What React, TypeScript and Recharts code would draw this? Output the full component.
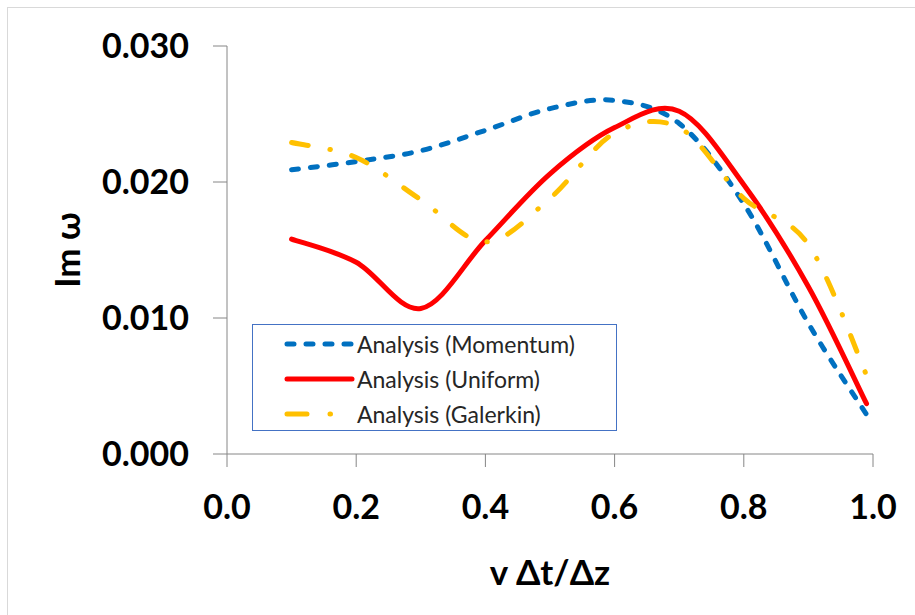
import { LineChart, Line, XAxis, YAxis, Legend, Label } from 'recharts'

// courant number samples
const courant = [0.1, 0.2, 0.3, 0.4, 0.5, 0.6, 0.7, 0.8, 0.9, 0.99]
const momentum = [0.0209, 0.0215, 0.0223, 0.0238, 0.0254, 0.026, 0.0243, 0.0184, 0.0096, 0.0029]
const uniform = [0.0158, 0.0141, 0.0107, 0.0157, 0.0206, 0.024, 0.0252, 0.0198, 0.0123, 0.0037]
const galerkin = [0.0229, 0.0218, 0.0187, 0.0156, 0.0188, 0.0236, 0.024, 0.0188, 0.0154, 0.0058]

const xTicks = [0, 0.2, 0.4, 0.6, 0.8, 1.0]
const yTicks = [0, 0.01, 0.02, 0.03]

const data = courant.map((x, i) => ({
  x,
  momentum: momentum[i],
  uniform: uniform[i],
  galerkin: galerkin[i],
}))

const FONT = 'Lato, "Open Sans", sans-serif'
const AXIS = '#868686'

const SERIES = [
  { key: 'momentum', name: 'Analysis (Momentum)', color: '#0070C0', dash: '7 12', legendDash: '7 12', width: 5 },
  { key: 'uniform', name: 'Analysis (Uniform)', color: '#FF0000', dash: undefined, legendDash: undefined, width: 5 },
  { key: 'galerkin', name: 'Analysis (Galerkin)', color: '#FFC000', dash: '17 22 0.5 22', legendDash: '20 23 0.5 60', width: 5 },
]

// excel-like smoothing (catmull-rom through the points)
const excelSmooth = (context: any) => {
  let pts: number[][] = []
  return {
    areaStart() {},
    areaEnd() {},
    lineStart() {
      pts = []
    },
    lineEnd() {
      if (!pts.length) return
      context.moveTo(pts[0][0], pts[0][1])
      for (let i = 0; i < pts.length - 1; i++) {
        const p0 = pts[Math.max(0, i - 1)]
        const p1 = pts[i]
        const p2 = pts[i + 1]
        const p3 = pts[Math.min(pts.length - 1, i + 2)]
        context.bezierCurveTo(
          p1[0] + (p2[0] - p0[0]) / 6,
          p1[1] + (p2[1] - p0[1]) / 6,
          p2[0] - (p3[0] - p1[0]) / 6,
          p2[1] - (p3[1] - p1[1]) / 6,
          p2[0],
          p2[1],
        )
      }
    },
    point(x: number, y: number) {
      pts.push([+x, +y])
    },
  }
}

function LegendBox({ payload }: any) {
  const items = payload || []
  return (
    <div
      style={{
        width: 363,
        height: 104,
        border: '1px solid #4472C4',
        background: '#fff',
        boxSizing: 'content-box',
        paddingTop: 1,
      }}
    >
      {SERIES.map((s) => {
        const p = items.find((d: any) => d.dataKey === s.key)
        if (!p) return null
        return (
          <div
            key={s.key}
            style={{ display: 'flex', alignItems: 'center', height: 35, fontFamily: FONT, fontSize: 23, color: '#262626' }}
          >
            <svg width={104} height={20} style={{ flex: 'none' }}>
              <line
                x1={34}
                x2={99}
                y1={10}
                y2={10}
                stroke={s.color}
                strokeWidth={s.width}
                strokeDasharray={s.legendDash}
                strokeLinecap="round"
              />
            </svg>
            <span>{p.value}</span>
          </div>
        )
      })}
    </div>
  )
}

function YTitle({ viewBox }: any) {
  const cy = viewBox.y + viewBox.height / 2
  return (
    <text
      x={66}
      y={cy}
      transform={`rotate(-90 66 ${cy})`}
      textAnchor="middle"
      dominantBaseline="central"
      fontFamily={FONT}
      fontWeight="bold"
      fontSize={35}
      fill="#000"
    >
      Im ω
    </text>
  )
}

export default function App() {
  return (
    <div style={{ position: 'absolute', left: 0, top: 0, width: 915, height: 615, background: '#fff' }}>
      <div
        style={{
          position: 'absolute',
          left: 7,
          top: 7,
          width: 920,
          height: 620,
          border: '1px solid #d9d9d9',
        }}
      />
      <LineChart
        width={915}
        height={615}
        data={data}
        margin={{ top: 46, right: 42, left: 0, bottom: 0 }}
        style={{ position: 'absolute', left: 0, top: 0 }}
      >
        <XAxis
          dataKey="x"
          type="number"
          domain={[0, 1]}
          ticks={xTicks}
          tickFormatter={(v: number) => v.toFixed(1)}
          height={161}
          stroke={AXIS}
          tickSize={13}
          tickMargin={28}
          tick={{ fontFamily: FONT, fontWeight: 'bold', fontSize: 34, fill: '#000' }}
        >
          <Label
            value="v Δt/Δz"
            position="insideBottom"
            offset={30}
            style={{ fontFamily: FONT, fontWeight: 'bold', fontSize: 35, fill: '#000' }}
          />
        </XAxis>
        <YAxis
          type="number"
          domain={[0, 0.03]}
          ticks={yTicks}
          tickFormatter={(v: number) => v.toFixed(3)}
          width={227}
          stroke={AXIS}
          tickSize={14}
          tickMargin={24}
          tick={{ fontFamily: FONT, fontWeight: 'bold', fontSize: 34, fill: '#000' }}
        >
          <Label content={<YTitle />} />
        </YAxis>
        <Legend
          layout="vertical"
          align="center"
          verticalAlign="middle"
          content={<LegendBox />}
          wrapperStyle={{ left: 252, top: 324, width: 365, height: 106 }}
        />
        {SERIES.map((s) => (
          <Line
            key={s.key}
            dataKey={s.key}
            name={s.name}
            stroke={s.color}
            strokeWidth={s.width}
            strokeDasharray={s.dash}
            strokeLinecap="round"
            type={excelSmooth as any}
            dot={false}
            activeDot={false}
            isAnimationActive={false}
          />
        ))}
      </LineChart>
    </div>
  )
}
